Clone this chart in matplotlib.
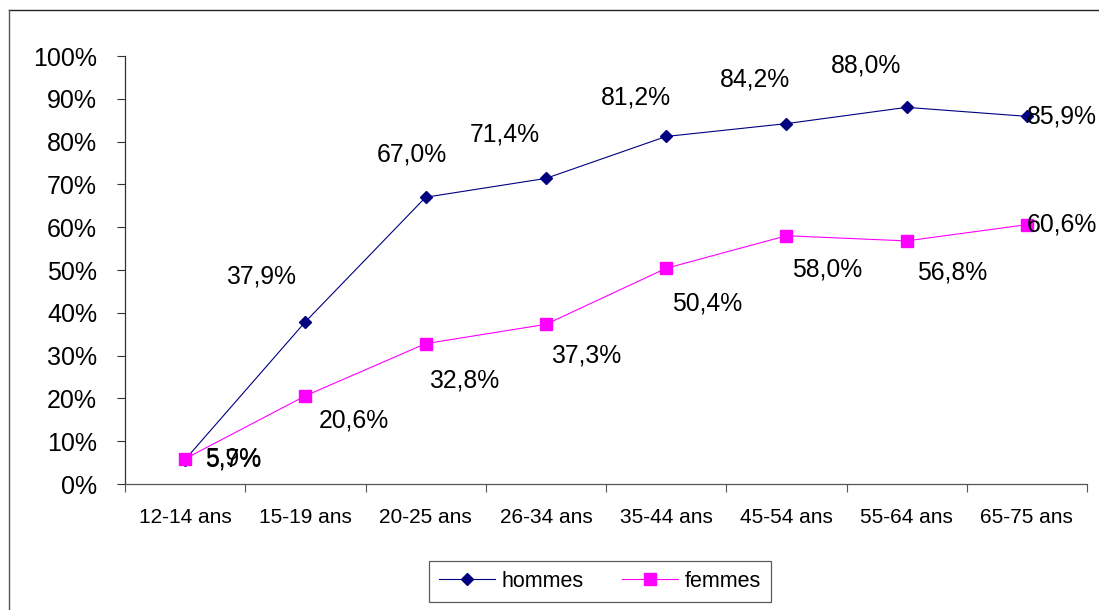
import matplotlib.pyplot as plt
from matplotlib.lines import Line2D

plt.rcParams['font.family'] = ['Liberation Sans', 'DejaVu Sans']

# data
categories = ["12-14 ans", "15-19 ans", "20-25 ans", "26-34 ans",
              "35-44 ans", "45-54 ans", "55-64 ans", "65-75 ans"]
hommes = [5.7, 37.9, 67.0, 71.4, 81.2, 84.2, 88.0, 85.9]
femmes = [5.9, 20.6, 32.8, 37.3, 50.4, 58.0, 56.8, 60.6]

# label offsets in pixels (dx, dy), positive dy = up
off_h = [(48, 0), (-44, 45), (-14, 43), (-41, 44), (-30, 39), (-31, 44), (-41, 42), (35, 0)]
off_f = [(48, 0), (49, -25), (39, -37), (40, -31), (41, -35), (41, -34), (46, -32), (35, 0)]

fig = plt.figure(figsize=(10.99, 6.10), dpi=100)
ax = fig.add_axes([125/1099, 126/610, 962/1099, 428/610])

x = range(len(categories))
ax.plot(x, hommes, color='#000080', lw=0.8, marker='D', ms=6.5,
        mec='#000080', mfc='#000080', label='hommes', zorder=3)
ax.plot(x, femmes, color='#FF00FF', lw=0.8, marker='s', ms=9,
        mec='#FF00FF', mfc='#FF00FF', label='femmes', zorder=4)

for i, v in enumerate(hommes):
    ax.annotate(f"{v:.1f}%".replace('.', ','), (i, v), xytext=off_h[i],
                textcoords='offset pixels', ha='center', va='center',
                fontsize=17.8, zorder=5)
for i, v in enumerate(femmes):
    ax.annotate(f"{v:.1f}%".replace('.', ','), (i, v), xytext=off_f[i],
                textcoords='offset pixels', ha='center', va='center',
                fontsize=17.8, zorder=5)

ax.set_xlim(-0.5, len(categories) - 0.5)
ax.set_ylim(0, 100)
ax.set_yticks(range(0, 101, 10))
ax.set_yticklabels([f"{t}%" for t in range(0, 101, 10)], fontsize=18)
ax.set_xticks(list(x))
ax.set_xticklabels(categories, fontsize=15)
ax.set_xticks([i - 0.5 for i in range(len(categories) + 1)], minor=True)
ax.tick_params(axis='x', which='major', length=0, pad=17)
ax.tick_params(axis='x', which='minor', length=6, width=0.8, color='#555555')
ax.tick_params(axis='y', length=6, width=0.8, pad=14, color='#333333')

for s in ['top', 'right']:
    ax.spines[s].set_visible(False)
ax.spines['left'].set_color('#333333')
ax.spines['bottom'].set_color('#555555')
ax.spines['left'].set_linewidth(0.9)
ax.spines['bottom'].set_linewidth(0.9)

# figure border (top and left)
fig.add_artist(Line2D([9/1099, 1], [600/610, 600/610], transform=fig.transFigure,
                      color='#222222', lw=1))
fig.add_artist(Line2D([9/1099, 9/1099], [0, 600/610], transform=fig.transFigure,
                      color='#555555', lw=1))

leg = fig.legend(loc='center', bbox_to_anchor=(600/1099, 28.5/610), ncol=2,
                 fontsize=15.5, frameon=True, fancybox=False, edgecolor='#333333',
                 handlelength=2.6, handletextpad=0.3, columnspacing=1.8,
                 borderpad=0.45, borderaxespad=0.0)
leg.get_frame().set_linewidth(0.9)

fig.savefig('out.png', dpi=100)
